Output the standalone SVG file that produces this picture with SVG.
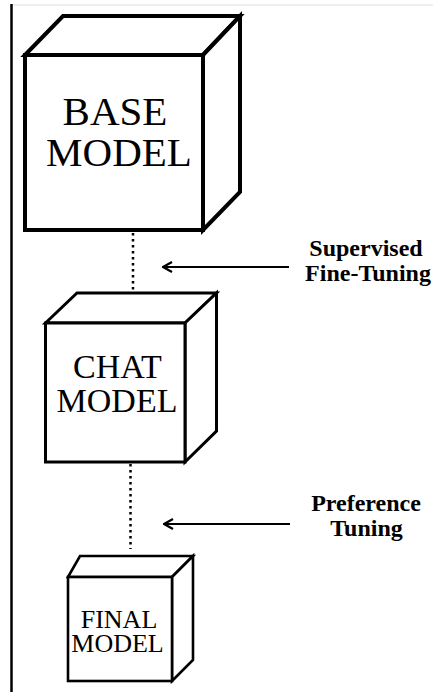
<svg xmlns="http://www.w3.org/2000/svg" width="433" height="692" viewBox="0 0 433 692">
<style>
.cube{fill:#fff;stroke:#000;stroke-linejoin:miter}
.lbl{font-family:"Liberation Serif","Times New Roman",serif;fill:#000;text-anchor:middle}
.side{font-family:"Liberation Serif","Times New Roman",serif;font-weight:bold;font-size:24px;fill:#000;text-anchor:middle}
.dot{stroke:#000;stroke-width:2.5;stroke-dasharray:2.5 3.5;fill:none}
.arr{stroke:#000;stroke-width:2.2;fill:none}
</style>
<defs>
<marker id="head" viewBox="0 0 12 12" refX="11" refY="6" markerWidth="12" markerHeight="12" markerUnits="userSpaceOnUse" orient="auto">
<path d="M2 1 L11 6 L2 11" fill="none" stroke="#000" stroke-width="2.2"/>
</marker>
</defs>
<rect width="433" height="692" fill="#fff"/>
<line x1="12" y1="5" x2="433" y2="5" stroke="#dddddd" stroke-width="1"/>
<line x1="11.5" y1="4" x2="11.5" y2="692" stroke="#000" stroke-width="2.5"/>
<g id="connectors">
<line class="dot" x1="133" y1="233" x2="133" y2="292"/>
<line class="dot" x1="130.5" y1="464" x2="130.5" y2="549"/>
<line class="arr" x1="289" y1="267" x2="163" y2="267" marker-end="url(#head)"/>
<line class="arr" x1="290" y1="524" x2="164" y2="524" marker-end="url(#head)"/>
</g>
<g id="base-model">
<g class="cube" stroke-width="4">
<path d="M25 55 L63 16 L240 16 L203 55 Z"/>
<path d="M203 55 L240 16 L240 192 L203 230 Z"/>
<rect x="25" y="55" width="178" height="175"/>
</g>
<text class="lbl" font-size="41" x="115" y="125">BASE</text>
<text class="lbl" font-size="41" x="119" y="166">MODEL</text>
</g>
<g id="chat-model">
<g class="cube" stroke-width="3">
<path d="M45.5 323 L77 293 L216.5 293 L185 323 Z"/>
<path d="M185 323 L216.5 293 L216.5 431 L185 462 Z"/>
<rect x="45.5" y="323" width="139.5" height="139"/>
</g>
<text class="lbl" font-size="34" x="117.5" y="378">CHAT</text>
<text class="lbl" font-size="34" x="117" y="412">MODEL</text>
</g>
<g id="final-model">
<g class="cube" stroke-width="2.6">
<path d="M68 577 L80 556 L193 556 L172 577 Z"/>
<path d="M172 577 L193 556 L193 660 L172 681 Z"/>
<rect x="68" y="577" width="104" height="104"/>
</g>
<text class="lbl" font-size="26" x="119" y="628">FINAL</text>
<text class="lbl" font-size="26" x="117.5" y="652">MODEL</text>
</g>
<g id="label-sft">
<text class="side" x="366" y="256">Supervised</text>
<text class="side" x="368" y="281">Fine-Tuning</text>
</g>
<g id="label-pref">
<text class="side" x="366" y="511">Preference</text>
<text class="side" x="366.5" y="536">Tuning</text>
</g>
</svg>
